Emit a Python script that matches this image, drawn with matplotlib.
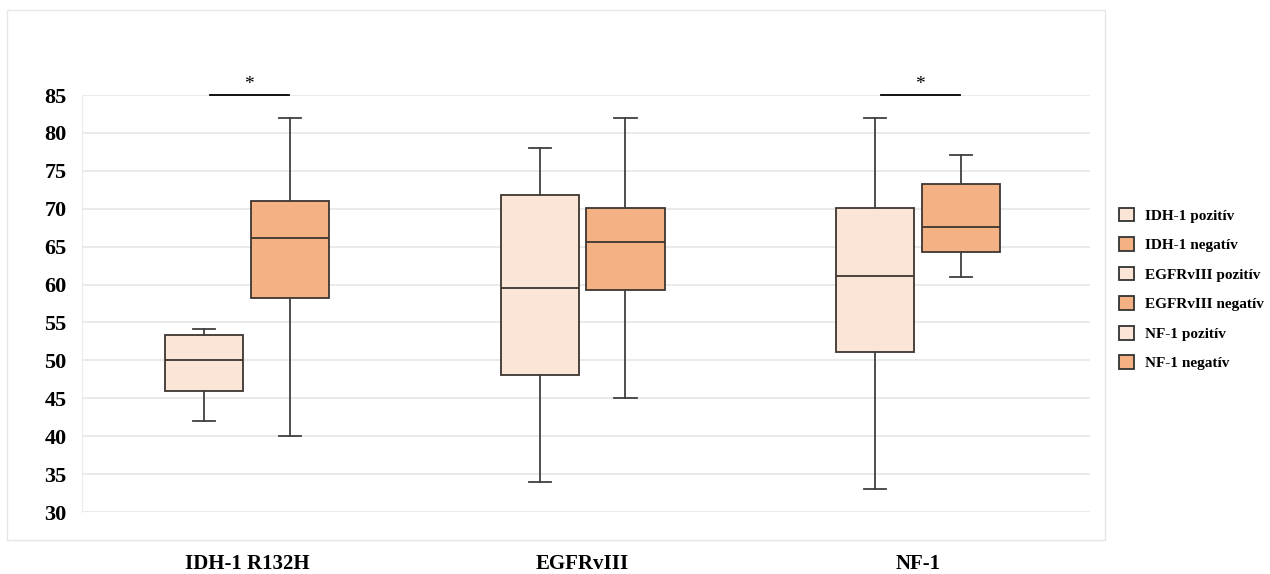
import numpy as np
import matplotlib.pyplot as plt
from matplotlib.patches import Patch, Rectangle

plt.close('all')
plt.rcParams['font.family'] = 'Liberation Serif'
plt.rcParams['font.weight'] = 'bold'

# Adatok (leolvasva az ábráról)
groups = ['IDH-1 R132H', 'EGFRvIII', 'NF-1']
series = ['IDH-1 pozitív', 'IDH-1 negatív', 'EGFRvIII pozitív',
          'EGFRvIII negatív', 'NF-1 pozitív', 'NF-1 negatív']
whislo = [42, 40, 34, 45, 33, 61]
q1 = [46, 58.2, 48.1, 59.3, 51.1, 64.3]
med = [50, 66.1, 59.5, 65.6, 61.1, 67.6]
q3 = [53.3, 71, 71.8, 70.1, 70.1, 73.3]
whishi = [54.1, 82, 78, 82, 82, 77.1]
sig_groups = [0, 2]   # csoportok ahol *
yticks = [30, 35, 40, 45, 50, 55, 60, 65, 70, 75, 80, 85]

light = '#FBE5D6'
dark = '#F4B183'
edge = '#3d3530'
colors = [light, dark] * 3

fig = plt.figure(figsize=(12.7, 5.74), dpi=100)
ax = fig.add_axes([82/1270, 1 - 512/574, (1090-82)/1270, 417/574])

centers = np.arange(1, len(groups) + 1)
off = 0.128
pos = []
for c in centers:
    pos += [c - off, c + off]

stats = []
for i in range(len(series)):
    stats.append(dict(whislo=whislo[i], q1=q1[i], med=med[i], q3=q3[i],
                      whishi=whishi[i], fliers=[]))

bp = ax.bxp(stats, positions=pos, widths=0.233, patch_artist=True,
            showfliers=False, capwidths=0.066,
            boxprops=dict(edgecolor=edge, linewidth=1.3),
            medianprops=dict(color=edge, linewidth=1.3),
            whiskerprops=dict(color='#404040', linewidth=1.3),
            capprops=dict(color='#404040', linewidth=1.3))
for b, col in zip(bp['boxes'], colors):
    b.set_facecolor(col)

# szignifikancia jelölések
for g in sig_groups:
    ax.plot([centers[g] - 0.11, centers[g] + 0.125], [85, 85], color='black',
            lw=1.3, clip_on=False, zorder=5)
    ax.text(centers[g] + 0.005, 85.3, '*', ha='center', va='bottom',
            fontsize=14, fontweight='normal')

ax.set_xlim(0.5075, 3.513)
ax.set_ylim(30, 85)
ax.set_yticks(yticks)
ax.set_xticks(centers)
ax.set_xticklabels(groups, fontsize=15, fontweight='bold')
ax.tick_params(axis='y', length=0, pad=11, labelsize=16)
ax.tick_params(axis='x', length=0, pad=30)
ax.yaxis.grid(True, color='#e6e6e6', lw=1.2)
ax.set_axisbelow(True)
for s in ['top', 'right', 'bottom']:
    ax.spines[s].set_visible(False)
ax.spines['left'].set_color('#ececec')

# keret az ábra körül
fig.patches.append(Rectangle((7/1270, 1 - 540/574), (1105-7)/1270, (540-10)/574,
                             transform=fig.transFigure, fill=False,
                             ec='#e6e6e6', lw=1.0))

handles = [Patch(facecolor=c, edgecolor='#333333', lw=1.3) for c in colors]
fig.legend(handles, series, loc='center left', bbox_to_anchor=(1108/1270, 1 - 289/574),
           frameon=False, fontsize=11, handlelength=1.0, handleheight=1.0,
           handletextpad=0.75, labelspacing=0.95, borderaxespad=0.3)

plt.savefig('out.png', dpi=100)
